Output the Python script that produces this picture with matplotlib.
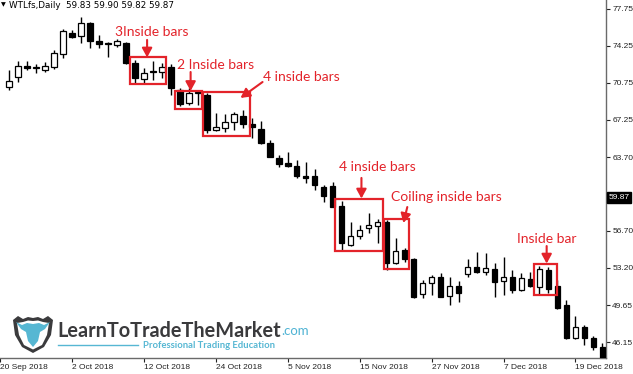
import numpy as np
import matplotlib
matplotlib.use("Agg")
import matplotlib.pyplot as plt
from matplotlib.patches import Rectangle, Polygon
import matplotlib.transforms as mtransforms

# ---------------- data (WTLfs daily, 21 Sep 2018 .. 24 Dec 2018) ----------------
opens = [70.33, 71.33, 72.34, 72.15, 71.96, 72.28, 73.48, 75.50, 75.19, 76.39,
         74.74, 74.55, 74.33, 74.55, 72.66, 71.08, 71.87, 71.80, 72.28, 70.07,
         68.80, 69.78, 69.59, 66.27, 66.43, 67.06, 67.63, 66.84, 66.36, 65.06,
         63.58, 63.11, 62.85, 61.91, 61.91, 60.89, 60.96, 59.06, 55.36, 56.21,
         56.94, 57.12, 57.57, 53.62, 54.88, 54.00, 50.71, 51.72, 52.29, 50.52,
         51.47, 52.61, 53.30, 52.83, 53.05, 51.97, 52.29, 51.09, 52.11, 51.35,
         52.99, 51.47, 49.67, 46.51, 47.55, 46.51, 45.65]
highs = [71.96, 72.84, 72.84, 72.50, 72.69, 73.86, 75.82, 75.76, 77.02, 76.55,
         75.28, 74.65, 74.87, 74.65, 72.91, 72.12, 72.84, 72.60, 72.53, 70.23,
         70.23, 70.07, 69.81, 67.85, 67.79, 68.01, 68.17, 67.38, 67.15, 65.32,
         63.90, 64.21, 63.42, 63.26, 62.57, 61.05, 61.36, 59.56, 57.57, 57.26,
         58.37, 57.80, 57.73, 56.00, 55.05, 54.10, 52.04, 52.51, 52.67, 52.35,
         51.97, 54.00, 54.72, 54.57, 53.62, 54.25, 52.99, 52.67, 52.83, 53.37,
         53.30, 52.04, 50.14, 48.62, 47.77, 46.73, 46.06]
lows = [70.07, 70.85, 71.96, 71.65, 71.74, 72.09, 73.07, 75.03, 74.50, 74.02,
        74.02, 73.22, 74.17, 72.53, 70.70, 70.76, 71.01, 71.17, 69.59, 68.55,
        68.64, 68.64, 65.96, 66.20, 66.11, 66.27, 66.43, 65.48, 64.94, 63.68,
        62.73, 62.73, 61.69, 61.21, 60.58, 59.47, 58.94, 54.88, 55.30, 55.90,
        56.47, 55.52, 52.99, 53.56, 53.77, 50.30, 50.30, 50.61, 50.43, 49.67,
        49.98, 52.35, 52.73, 52.51, 50.45, 50.62, 50.78, 51.02, 51.35, 50.71,
        50.78, 49.26, 46.41, 46.41, 45.87, 45.40, 44.10]
closes = [70.95, 72.34, 72.12, 72.20, 72.34, 73.60, 75.63, 75.12, 76.39, 74.74,
          74.40, 74.40, 74.74, 72.66, 71.17, 71.65, 71.80, 72.28, 70.23, 68.74,
          69.75, 69.85, 66.27, 66.53, 67.06, 67.76, 66.81, 66.53, 65.06, 63.74,
          63.04, 62.85, 61.91, 61.69, 61.05, 60.01, 59.00, 55.52, 56.21, 56.78,
          57.26, 57.57, 53.62, 54.82, 54.00, 50.45, 51.78, 52.35, 50.45, 51.47,
          50.78, 53.24, 52.83, 53.14, 51.88, 52.35, 51.09, 52.20, 51.47, 53.05,
          51.16, 49.35, 46.51, 47.61, 46.51, 45.65, 44.30]

date_tick_pos = [-1, 7, 15, 23, 31, 39, 47, 55, 63]
date_tick_labels = ["20 Sep 2018", "2 Oct 2018", "12 Oct 2018", "24 Oct 2018",
                    "5 Nov 2018", "15 Nov 2018", "27 Nov 2018", "7 Dec 2018",
                    "19 Dec 2018"]
price_ticks = [77.75, 74.25, 70.75, 67.25, 63.70, 56.70, 53.20, 49.65, 46.15]
price_tick_labels = ["77.75", "74.25", "70.75", "67.25", "63.70", "56.70",
                     "53.20", "49.65", "46.15"]
last_price = 59.87
header = "WTLfs,Daily  59.83 59.90 59.82 59.87"

# annotation boxes: (x0, x1, y0, y1) in bar index / price units
boxes = [(13.45, 17.5, 70.61, 73.17),
         (18.5, 21.5, 68.26, 69.97),
         (21.55, 26.85, 65.70, 69.90),
         (36.25, 41.55, 54.79, 59.72),
         (41.66, 44.53, 53.08, 57.83),
         (58.34, 60.9, 50.62, 53.56)]
labels = [("3Inside bars", 11.75, 75.57),
          ("2 Inside bars", 18.7, 72.44),
          ("4 inside bars", 28.3, 71.27),
          ("4 inside bars", 36.7, 62.79),
          ("Coiling inside bars", 42.5, 59.91),
          ("Inside bar", 56.5, 55.93)]
arrows = [((15.36, 74.81), (15.36, 73.15)),
          ((20.2, 71.77), (20.2, 69.97)),
          ((28.2, 70.82), (25.75, 69.31)),
          ((39.2, 61.72), (39.2, 59.77)),
          ((44.3, 58.96), (43.87, 57.45)),
          ((59.8, 55.26), (59.8, 53.60))]

RED = "#e3232a"
W, H = 633, 374
TICKFONT = "Liberation Sans"
TICKSIZE = 6.0

fig = plt.figure(figsize=(W / 100, H / 100), dpi=100)
fig.patch.set_facecolor("white")
ax = fig.add_axes([0, 16 / H, 606 / W, 358 / H])

o = np.array(opens); hi = np.array(highs); lo = np.array(lows); c = np.array(closes)
x = np.arange(len(o))
up = c >= o
bottom = np.minimum(o, c)
height = np.maximum(np.abs(c - o), 0.05)
ax.vlines(x, lo, hi, color="black", lw=1.0, zorder=2)
ax.bar(x, height, bottom=bottom, width=0.62,
       color=np.where(up, "white", "black"), edgecolor="black",
       linewidth=0.9, zorder=3)

ax.set_xlim(-0.55, 66.4)
ax.set_ylim(44.64, 78.6)

for s in ["left", "top"]:
    ax.spines[s].set_visible(False)
for s in ["right", "bottom"]:
    ax.spines[s].set_color("#6a6a6a")
    ax.spines[s].set_linewidth(1.0)

ax.yaxis.tick_right()
ax.set_yticks(price_ticks)
ax.set_yticklabels(price_tick_labels)
ax.tick_params(axis="y", length=3, width=0.8, pad=1.5, labelsize=TICKSIZE,
               colors="#222222")
ax.set_xticks(date_tick_pos)
ax.set_xticklabels(date_tick_labels)
ax.tick_params(axis="x", length=3, width=0.8, pad=1.5, labelsize=TICKSIZE,
               colors="#222222")
for lbl in ax.get_xticklabels():
    lbl.set_ha("left")
    lbl.set_family(TICKFONT)
for lbl in ax.get_yticklabels():
    lbl.set_family(TICKFONT)

# last price label
trans = mtransforms.blended_transform_factory(ax.transAxes, ax.transData)
ax.text(1.004, last_price, f"{last_price:.2f}", transform=trans, ha="left",
        va="center", fontsize=TICKSIZE, color="white", family=TICKFONT,
        bbox=dict(boxstyle="square,pad=0.2", fc="black", ec="black"),
        zorder=10, clip_on=False)

# header
fig.text(1 / W, 1 - 5 / H, "\u25BC", fontsize=4.5, ha="left", va="center",
         color="black", family="DejaVu Sans")
fig.text(9 / W, 1 - 5.5 / H, header, fontsize=6.3, ha="left", va="center",
         color="black", family="DejaVu Sans")

# annotations
for (x0, x1, y0, y1) in boxes:
    ax.add_patch(Rectangle((x0, y0), x1 - x0, y1 - y0, fill=False,
                           ec=RED, lw=1.6, zorder=5))
for (t, tx, ty) in labels:
    ax.text(tx, ty, t, color=RED, fontsize=10, family="Lato", ha="left",
            va="center", zorder=6)
for (s, e) in arrows:
    ax.annotate("", xy=e, xytext=s,
                arrowprops=dict(arrowstyle="-|>,head_length=0.55,head_width=0.3",
                                color=RED, lw=1.5, shrinkA=0, shrinkB=0),
                zorder=6)

# logo
lax = fig.add_axes([13 / W, 21 / H, 40 / W, 40 / H])
lax.set_xlim(0, 40); lax.set_ylim(0, 40); lax.axis("off")
shield = [(0, 33), (5, 37), (10, 34), (15, 36), (20, 35), (25, 36), (30, 34),
          (35, 37), (40, 33), (38, 18), (31, 6), (20, 0), (9, 6), (2, 18)]
lax.add_patch(Polygon(shield, closed=True, fc="#3b3b3d", ec="none"))
inner = [(4, 30), (10, 31), (15, 32.5), (20, 32), (25, 32.5), (30, 31), (36, 30),
         (34, 18), (29, 8), (20, 3.5), (11, 8), (6, 18)]
lax.add_patch(Polygon(inner, closed=True, fc="white", ec="none"))
head = [(3, 31), (9, 28), (14, 30), (20, 29), (26, 30), (31, 28), (37, 31),
        (32, 24), (27, 21), (25, 12), (20, 6), (15, 12), (13, 21), (8, 24)]
lax.add_patch(Polygon(head, closed=True, fc="#56b7d3", ec="none"))

fig.text(57 / W, 1 - 331 / H, "LearnToTradeTheMarket", fontsize=14.3,
         family="Lato", weight="bold", color="#3a3a3c", ha="left", va="center")
fig.text(281 / W, 1 - 331 / H, ".com", fontsize=9.5, family="Lato",
         color="#4fb3d4", ha="left", va="center")
fig.add_artist(plt.Line2D([58 / W, 138 / W], [1 - 345 / H, 1 - 345 / H],
                          color="#56b7d3", lw=1.0))
fig.text(143 / W, 1 - 345 / H, "Professional Trading Education", fontsize=6.8,
         family="Lato", weight="bold", color="#56b7d3", ha="left", va="center")

fig.savefig("out.png", dpi=100, facecolor="white")
